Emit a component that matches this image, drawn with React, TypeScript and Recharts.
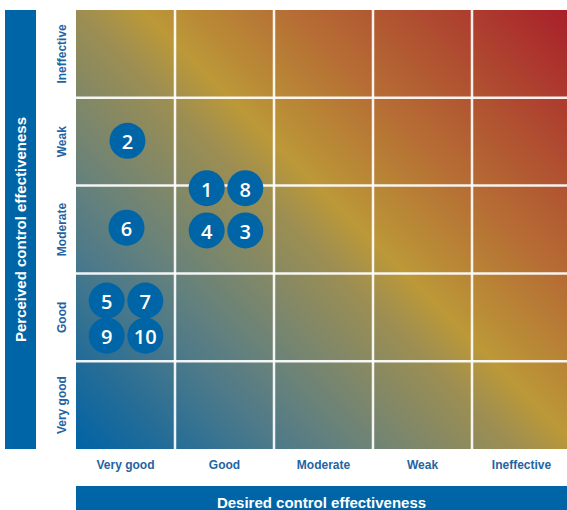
import { ScatterChart, Scatter, XAxis, YAxis, ReferenceArea, ReferenceLine } from 'recharts';

const levels = ['Very good', 'Good', 'Moderate', 'Weak', 'Ineffective'];
const tickCentres = [0.5, 1.5, 2.5, 3.5, 4.5];
const gridLines = [1, 2, 3, 4];

// risk numbers with their desired (x) and perceived (y) positions on the 0-5 scale
const riskIds = [2, 6, 1, 8, 4, 3, 5, 7, 9, 10];
const desiredScores = [0.52, 0.51, 1.32, 1.71, 1.32, 1.71, 0.31, 0.7, 0.31, 0.7];
const perceivedScores = [3.51, 2.52, 2.97, 2.97, 2.49, 2.49, 1.69, 1.69, 1.29, 1.29];

const BLUE = '#0065a6';
const LABEL_BLUE = '#1f64a3';
const FONT = '"Liberation Sans", Arial, sans-serif';

const points = riskIds.map((id, i) => ({ id, x: desiredScores[i], y: perceivedScores[i] }));

const fadeStops = [
  { offset: 0, color: '#0063a6' },
  { offset: 0.1, color: '#226c98' },
  { offset: 0.21, color: '#4b798a' },
  { offset: 0.3, color: '#68827a' },
  { offset: 0.4, color: '#878962' },
  { offset: 0.47, color: '#9c8e52' },
  { offset: 0.54, color: '#bc9838' },
  { offset: 0.6, color: '#b98836' },
  { offset: 0.7, color: '#b66d34' },
  { offset: 0.8, color: '#b15431' },
  { offset: 0.9, color: '#ad3a2e' },
  { offset: 1, color: '#a81f2a' },
];

const XTick = ({ x, y, payload }: any) => (
  <text x={x} y={y + 12} textAnchor="middle" fill={LABEL_BLUE} fontFamily={FONT} fontWeight="bold" fontSize={12}>
    {levels[Math.floor(payload.value)]}
  </text>
);

const YTick = ({ y, payload }: any) => (
  <text
    x={62}
    y={y}
    textAnchor="middle"
    dominantBaseline="central"
    transform={`rotate(-90, 62, ${y})`}
    fill={LABEL_BLUE}
    fontFamily={FONT}
    fontWeight="bold"
    fontSize={12}
  >
    {levels[Math.floor(payload.value)]}
  </text>
);

const Bubble = ({ cx, cy, payload }: any) => (
  <g>
    <circle cx={cx} cy={cy} r={18} fill={BLUE} />
    <text
      x={cx}
      y={cy + 1}
      textAnchor="middle"
      dominantBaseline="central"
      fill="#fff"
      fontFamily='"Open Sans", sans-serif'
      fontWeight={600}
      fontSize={20}
    >
      {payload.id}
    </text>
  </g>
);

export default function App() {
  return (
    <div style={{ position: 'relative', width: 567, height: 510, overflow: 'hidden', background: '#fff' }}>
      <style>{'body { margin: 0; }'}</style>
      <ScatterChart width={571} height={510} margin={{ top: 10, right: 0, bottom: 0, left: 0 }}>
        <defs>
          <linearGradient id="matrixFade" gradientUnits="userSpaceOnUse" x1={76} y1={449} x2={543} y2={-18}>
            {fadeStops.map((s) => (
              <stop key={s.offset} offset={s.offset} stopColor={s.color} />
            ))}
          </linearGradient>
        </defs>
        <XAxis
          type="number"
          dataKey="x"
          domain={[0, 5]}
          ticks={tickCentres}
          height={61}
          axisLine={false}
          tickLine={false}
          tick={<XTick />}
          interval={0}
        />
        <YAxis
          type="number"
          dataKey="y"
          domain={[0, 5]}
          ticks={tickCentres}
          width={76}
          axisLine={false}
          tickLine={false}
          tick={<YTick />}
          interval={0}
        />
        <ReferenceArea x1={0} x2={5} y1={0} y2={5} fill="url(#matrixFade)" fillOpacity={1} stroke="none" />
        {gridLines.map((v) => (
          <ReferenceLine key={`v${v}`} x={v} stroke="#fff" strokeWidth={2.5} strokeOpacity={0.92} />
        ))}
        {gridLines.map((v) => (
          <ReferenceLine key={`h${v}`} y={v} stroke="#fff" strokeWidth={2.5} strokeOpacity={0.92} />
        ))}
        <Scatter data={points} shape={<Bubble />} isAnimationActive={false} />
      </ScatterChart>

      {/* axis title bars */}
      <div
        style={{
          position: 'absolute',
          left: 5,
          top: 10,
          width: 31,
          height: 439,
          background: BLUE,
          display: 'flex',
          alignItems: 'center',
          justifyContent: 'center',
        }}
      >
        <span
          style={{
            transform: 'rotate(-90deg)',
            whiteSpace: 'nowrap',
            color: '#fff',
            fontFamily: FONT,
            fontWeight: 'bold',
            fontSize: 15,
          }}
        >
          Perceived control effectiveness
        </span>
      </div>
      <div
        style={{
          position: 'absolute',
          left: 76,
          top: 486,
          width: 491,
          height: 24,
          background: BLUE,
          display: 'flex',
          alignItems: 'center',
          justifyContent: 'center',
          paddingTop: 8,
          boxSizing: 'border-box',
          color: '#fff',
          fontFamily: FONT,
          fontWeight: 'bold',
          fontSize: 15,
          whiteSpace: 'nowrap',
        }}
      >
        Desired control effectiveness
      </div>
    </div>
  );
}
